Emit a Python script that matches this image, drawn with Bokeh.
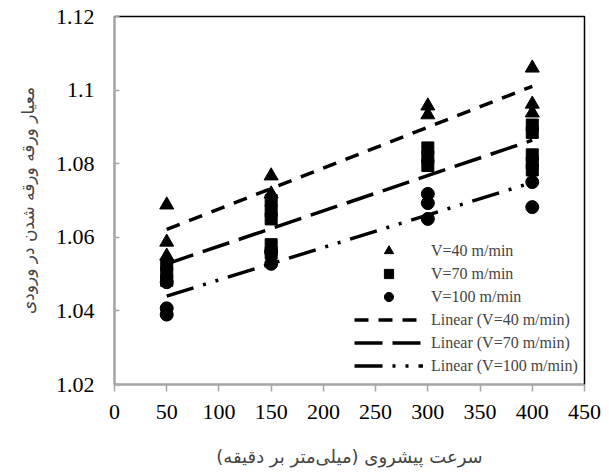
import numpy as np
from bokeh.plotting import figure
from bokeh.models import FixedTicker, Legend, LegendItem, Title
from bokeh.embed import file_html
from bokeh.resources import INLINE

# ---- data ----
x_v40 = [50, 50, 50, 150, 150, 300, 300, 400, 400, 400]
y_v40 = [1.0688, 1.0587, 1.0549, 1.0767, 1.0718, 1.0957, 1.0933, 1.1060, 1.0962, 1.0938]

x_v70 = [50, 50, 50, 150, 150, 150, 150, 150, 300, 300, 300, 400, 400, 400, 400, 400]
y_v70 = [1.0525, 1.0503, 1.0483, 1.0700, 1.0672, 1.0650, 1.0580, 1.0557,
         1.0843, 1.0818, 1.0795, 1.0905, 1.0885, 1.0824, 1.0802, 1.0783]

x_v100 = [50, 50, 50, 150, 150, 300, 300, 300, 400, 400]
y_v100 = [1.0407, 1.0390, 1.0478, 1.0528, 1.0560, 1.0718, 1.0693, 1.0650, 1.0750, 1.0682]

x_ticks = [0, 50, 100, 150, 200, 250, 300, 350, 400, 450]
y_ticks = [1.02, 1.04, 1.06, 1.08, 1.1, 1.12]
y_tick_labels = ["1.02", "1.04", "1.06", "1.08", "1.1", "1.12"]

series_names = ["V=40 m/min", "V=70 m/min", "V=100 m/min"]
x_title = "سرعت پیشروی (میلی‌متر بر دقیقه)"
y_title = "معیار ورقه ورقه شدن در ورودی"

SERIF = "Liberation Serif"
ARABIC = "DejaVu Sans"

p = figure(width=601, height=472, output_backend="svg", toolbar_location=None,
           x_range=(0, 450), y_range=(1.02, 1.12),
           min_border_left=113, min_border_right=17, min_border_top=16, min_border_bottom=88)
p.background_fill_color = "white"
p.border_fill_color = "white"
p.outline_line_color = "black"
p.outline_line_width = 1.5
p.xgrid.visible = False
p.ygrid.visible = False

p.xaxis.ticker = FixedTicker(ticks=x_ticks)
p.yaxis.ticker = FixedTicker(ticks=y_ticks)
p.yaxis.major_label_overrides = dict(zip(y_ticks, y_tick_labels))

for ax in (p.xaxis[0], p.yaxis[0]):
    ax.axis_line_color = "#a6a6a6"
    ax.axis_line_width = 1.5
    ax.major_tick_line_color = "#a6a6a6"
    ax.major_tick_line_width = 1.5
    ax.minor_tick_line_color = None
    ax.major_label_text_font = SERIF
    ax.major_label_text_font_size = "22px"
    ax.major_label_text_color = "black"

p.xaxis.major_tick_in = 0
p.xaxis.major_tick_out = 7
p.xaxis.major_label_standoff = 13
p.yaxis.major_tick_in = 5
p.yaxis.major_tick_out = 0
p.yaxis.major_label_standoff = 20

p.xaxis.axis_label = x_title
p.xaxis.axis_label_text_font = ARABIC
p.xaxis.axis_label_text_font_size = "18px"
p.xaxis.axis_label_text_font_style = "normal"
p.xaxis.axis_label_standoff = 24

yt = Title(text=y_title, align="center", offset=34, text_font=ARABIC,
           text_font_size="17px", text_font_style="normal", standoff=30)
p.add_layout(yt, "left")

xs_all = [x_v40, x_v70, x_v100]
ys_all = [y_v40, y_v70, y_v100]
markers = ["triangle", "square", "circle"]
sizes = [14, 12, 13]
dashes = ["14 10", "28 10", "28 10 3 10 3 10"]

scatter_r = []
line_r = []
for xs, ys, mk, sz in zip(xs_all, ys_all, markers, sizes):
    r = p.scatter(xs, ys, marker=mk, size=sz, color="black")
    scatter_r.append(r)
for xs, ys, dash in zip(xs_all, ys_all, dashes):
    k, b = np.polyfit(xs, ys, 1)
    lx = [min(xs), max(xs)]
    ly = [k * lx[0] + b, k * lx[1] + b]
    r = p.line(lx, ly, line_color="black", line_width=3.5, line_dash=dash)
    line_r.append(r)

items = [LegendItem(label=n, renderers=[r]) for n, r in zip(series_names, scatter_r)]
items += [LegendItem(label="Linear (%s)" % n, renderers=[r]) for n, r in zip(series_names, line_r)]
legend = Legend(items=items, location=(240, 7), border_line_color=None,
                background_fill_alpha=0, padding=0, margin=0, spacing=0,
                glyph_width=69, glyph_height=23, label_height=23, label_standoff=8,
                label_text_font=SERIF, label_text_font_size="16px")
p.add_layout(legend, "center")

open("out.html", "w").write(file_html(p, INLINE))
